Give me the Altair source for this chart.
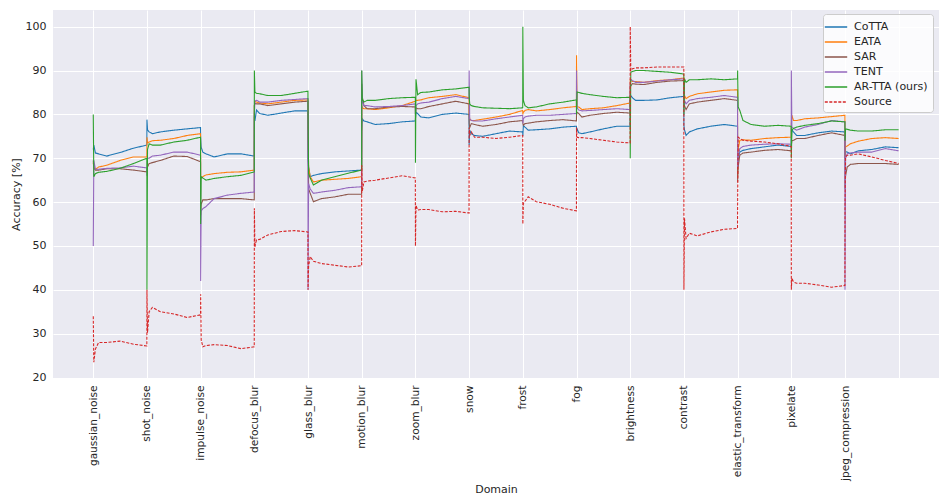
import json
import altair as alt
import pandas as pd

domains = ["gaussian_noise", "shot_noise", "impulse_noise", "defocus_blur", "glass_blur",
           "motion_blur", "zoom_blur", "snow", "frost", "fog", "brightness", "contrast",
           "elastic_transform", "pixelate", "jpeg_compression"]

methods = ["CoTTA", "EATA", "SAR", "TENT", "AR-TTA (ours)", "Source"]
colors = ["#1f77b4", "#ff7f0e", "#8c564b", "#9467bd", "#2ca02c", "#d62728"]

# position of each reading inside its domain (fraction of the domain's stream)
t_frac = [0.0, 0.01, 0.04, 0.1, 0.25, 0.5, 0.75, 0.998]

cotta = [
    [72, 73, 71.2, 71, 70.5, 71.3, 72.3, 73],
    [78.8, 76.5, 76, 75.6, 76, 76.4, 76.7, 77],
    [74.8, 72.5, 71.4, 71, 70.3, 71, 71, 70.5],
    [79.5, 78.5, 81, 80.2, 79.8, 80.3, 80.8, 80.8],
    [70, 68, 65.8, 66.1, 66.5, 66.9, 67.1, 67.3],
    [76, 79, 78.5, 78.3, 77.7, 77.9, 78.3, 78.5],
    [79, 80.5, 80.2, 79.4, 79.2, 80, 80.3, 80],
    [73, 76.4, 75.6, 75.2, 75, 75.6, 76.2, 76],
    [75, 77.5, 77.1, 76.4, 76.5, 76.7, 77.1, 77.3],
    [76, 76.7, 75.8, 75.6, 76, 76.7, 77.3, 77.3],
    [84.7, 84.3, 83.8, 83.2, 83.2, 83.3, 83.8, 84.1],
    [77.5, 76.5, 75.2, 76, 76.7, 77.3, 77.7, 77.3],
    [68, 70, 71.4, 71.8, 72.2, 72.6, 73, 72.7],
    [74, 76.5, 76, 75.2, 75.2, 75.8, 76.2, 76],
    [70, 71.5, 71.4, 71, 71.7, 72, 72.6, 72.4],
]
eata = [
    [69, 68, 67.5, 68, 68.4, 69.5, 70.3, 70.3],
    [74.8, 73.5, 73.7, 74, 74.1, 74.5, 75.2, 75.6],
    [66, 65.5, 65.8, 66.2, 66.5, 66.8, 66.9, 67.3],
    [82, 83, 82.8, 82.6, 82.4, 82.8, 83.2, 83.3],
    [77, 68, 65.8, 64.6, 65, 65.2, 65.4, 65.8],
    [82, 81.5, 81.3, 81.3, 81.1, 81.5, 82, 83],
    [83, 83.2, 83.2, 83.3, 83.8, 84.1, 84.5, 83.8],
    [80, 79, 78.6, 78.6, 78.9, 79.4, 80, 80.9],
    [80, 80.5, 80.9, 81.1, 80.8, 81.1, 81.5, 81.8],
    [93.5, 81.7, 81.7, 81.1, 81.3, 81.5, 82, 82.6],
    [88, 87.7, 87.5, 87.5, 87.3, 87.7, 87.9, 88.3],
    [83, 84.3, 83.6, 84.1, 84.7, 85.1, 85.5, 85.6],
    [66, 72, 74.1, 74.2, 74.1, 74.5, 74.7, 74.8],
    [78, 79.8, 78.6, 78.6, 79, 79.2, 79.5, 79.8],
    [70, 72.6, 72.8, 73.3, 73.9, 74.5, 74.7, 74.5],
]
sar = [
    [69.5, 67.8, 67.3, 67.3, 67.6, 67.6, 67.3, 66.9],
    [67, 68, 68.8, 69, 69.5, 70.5, 70.4, 69.2],
    [57, 59.5, 60.5, 60.5, 60.8, 60.8, 60.8, 60.5],
    [82, 82.5, 82.4, 82.4, 82, 82.4, 82.8, 83],
    [75, 63, 62, 60.1, 60.8, 61.2, 61.8, 61.8],
    [87, 84, 82, 81.3, 81.3, 81.7, 81.8, 81.7],
    [80, 81.5, 81.3, 81.3, 81.8, 82.4, 83, 82.4],
    [78, 77, 77.9, 77.7, 77.3, 77.7, 78.3, 78.6],
    [78, 77.5, 77.9, 78, 78.3, 78.6, 78.8, 78.5],
    [80, 80.5, 80.2, 79.4, 79.8, 80.2, 80.5, 80.3],
    [86.5, 86.5, 87, 86.9, 86.8, 87.3, 87.6, 87.7],
    [82, 82, 81.1, 82.4, 82.8, 83.2, 83.6, 83.2],
    [64.6, 68, 70.7, 71.2, 71.4, 71.8, 72, 71.7],
    [73, 74, 74.1, 74.5, 74.5, 75.2, 75.8, 75.2],
    [63, 66, 68, 68.6, 68.8, 68.8, 68.8, 68.6],
]
tent = [
    [50, 69.5, 67.5, 67.5, 67.7, 67.8, 68.2, 67.8],
    [66, 70, 70, 70.5, 70.7, 71.4, 71.4, 70.7],
    [42, 58, 58.5, 59, 60.8, 61.6, 62, 62.3],
    [80, 83, 83.2, 82.8, 82.8, 83.2, 83.4, 83.6],
    [40, 64.2, 63, 62, 62.3, 62.7, 63.3, 63.5],
    [90, 83, 82, 82, 81.7, 81.8, 82, 82.4],
    [80, 82, 82.4, 82.6, 82.8, 83.6, 84.1, 83.6],
    [90, 79, 78.6, 78.5, 78.5, 79, 79.4, 79.8],
    [78, 79, 79.4, 79.6, 79.8, 79.8, 80, 80.2],
    [90, 81.5, 81, 80.8, 80.9, 81.1, 81.3, 81.1],
    [87, 88, 87.7, 87.3, 87.3, 87.6, 87.9, 88.1],
    [82, 83.2, 82.4, 83.2, 83.6, 83.9, 84.3, 83.9],
    [68, 70, 72.2, 72.7, 73, 73.2, 73.3, 73.2],
    [90, 77.1, 76.8, 76.4, 77.1, 77.7, 78.6, 78.3],
    [40, 70, 71, 71.2, 71.4, 71.4, 72.2, 71.7],
]
artta = [
    [80, 65.8, 66.5, 66.8, 67, 67.7, 68.8, 70],
    [40, 72, 73.3, 73, 73, 73.7, 74.1, 74.8],
    [55, 65.8, 65.5, 65, 65.4, 65.8, 66.1, 66.9],
    [90, 85.1, 84.8, 84.7, 84.3, 84.3, 84.8, 85.3],
    [80, 66.5, 65.5, 63.9, 65, 65.8, 66.6, 67.3],
    [90, 83.5, 82.8, 83.2, 83.2, 83.6, 83.8, 83.9],
    [69, 88, 84.5, 85, 85.1, 85.6, 85.8, 86.2],
    [84, 82.4, 82, 81.8, 81.5, 81.4, 81.3, 81.5],
    [100, 83.2, 82, 81.5, 81.7, 82.4, 82.8, 83.3],
    [80, 85.1, 85, 84.8, 84.5, 84.1, 83.8, 83.9],
    [70, 89.6, 89.8, 90, 90, 89.8, 89.6, 89.2],
    [80, 88.1, 87.3, 87.9, 87.9, 88.1, 87.9, 88.1],
    [90, 81.7, 80.9, 78.6, 77.7, 77.3, 77.5, 77.3],
    [70, 76.4, 76.8, 77.1, 77.5, 77.9, 78.5, 78.3],
    [74, 76.7, 76.6, 76.4, 76.2, 76.2, 76.5, 76.5],
]
source = [
    [34, 23.5, 26.5, 28, 28, 28.3, 27.6, 27.2],
    [40, 30.2, 35, 36, 35, 34.5, 33.7, 34.3],
    [39, 28.6, 27, 27.3, 27.5, 27.3, 26.6, 27],
    [58.6, 49.8, 51.4, 51.5, 52.5, 53.3, 53.5, 53.2],
    [40, 45.3, 47.6, 46.5, 46, 45.6, 45.2, 45.5],
    [68.4, 62.5, 64.6, 64.8, 65, 65.5, 66, 65.5],
    [50, 59.3, 58.2, 58.3, 58.3, 57.8, 57.9, 57.5],
    [77, 75.2, 76, 74.8, 74.8, 74.5, 74.8, 75.2],
    [55, 59.7, 60.2, 61.2, 60.1, 59.5, 58.6, 58],
    [77, 74.8, 74.7, 74.7, 74.5, 74.1, 73.7, 73.5],
    [100, 90, 90.4, 90.6, 90.6, 90.8, 90.8, 90.8],
    [40, 56.3, 51.7, 52.9, 52.3, 53.2, 53.8, 54],
    [59.7, 74.8, 74.5, 74.1, 73.9, 73.7, 73.3, 72.7],
    [40, 42.7, 41.8, 41.5, 41.5, 41.1, 40.6, 41],
    [60, 70.3, 70.7, 70.7, 71, 70.3, 69.5, 68.8],
]

series = [cotta, eata, sar, tent, artta, source]

rows = []
for m, s in zip(methods, series):
    k = 0
    for di, vals in enumerate(s):
        for tf, v in zip(t_frac, vals):
            rows.append({"method": m, "x": di + tf, "acc": v, "k": k})
            k += 1
df = pd.DataFrame(rows)

tick_labels = domains + [""]
label_expr = json.dumps(tick_labels) + "[round(datum.value)]"

FONT = "DejaVu Sans"
TXT = "#262626"

x_enc = alt.X("x:Q", title="Domain",
              scale=alt.Scale(domain=[-0.75, 15.75], nice=False, zero=False),
              axis=alt.Axis(values=list(range(16)), labelExpr=label_expr, labelAngle=270,
                            labelPadding=7, titlePadding=3, ticks=False, domain=False,
                            gridColor="white", gridWidth=1, labelFontSize=10.6, titleFontSize=11,
                            labelColor=TXT, titleColor=TXT, titleFontWeight="normal",
                            labelFont=FONT, titleFont=FONT, labelOverlap=False))
y_enc = alt.Y("acc:Q", title="Accuracy [%]",
              scale=alt.Scale(domain=[19.9, 103.8], nice=False, zero=False),
              axis=alt.Axis(values=list(range(20, 101, 10)), labelPadding=7, titlePadding=4,
                            ticks=False, domain=False, gridColor="white", gridWidth=1,
                            labelFontSize=11, titleFontSize=11, labelColor=TXT, titleColor=TXT,
                            titleFontWeight="normal", labelFont=FONT, titleFont=FONT))

color_enc = alt.Color("method:N", title=None,
                      scale=alt.Scale(domain=methods, range=colors),
                      legend=alt.Legend(orient="none", legendX=770, legendY=4,
                                        fillColor="rgba(255,255,255,0.8)", strokeColor="#cccccc",
                                        cornerRadius=3, padding=5, labelFontSize=11,
                                        labelFont=FONT, labelColor=TXT,
                                        symbolType="M-1.6,0H1.6",
                                        symbolSize=196, symbolStrokeWidth=1.5, rowPadding=2,
                                        labelOffset=10))
dash_enc = alt.StrokeDash("method:N", title=None,
                          scale=alt.Scale(domain=methods,
                                          range=[[1, 0], [1, 0], [1, 0], [1, 0], [1, 0], [3, 1.5]]))

layers = []
for m in methods:
    layers.append(
        alt.Chart(df).transform_filter(alt.datum.method == m)
        .mark_line(strokeWidth=1.1, interpolate="linear")
        .encode(x=x_enc, y=y_enc, color=color_enc, strokeDash=dash_enc, order="k:Q")
    )

chart = alt.layer(*layers).properties(
    width=886, height=368,
    autosize=alt.AutoSizeParams(type="none"),
    padding={"left": 45, "top": 2, "right": 4, "bottom": 121},
    background="white",
).configure_view(fill="#EAEAF2", stroke=None)

chart.save("out.html", embed_options={"renderer": "svg", "actions": False})
